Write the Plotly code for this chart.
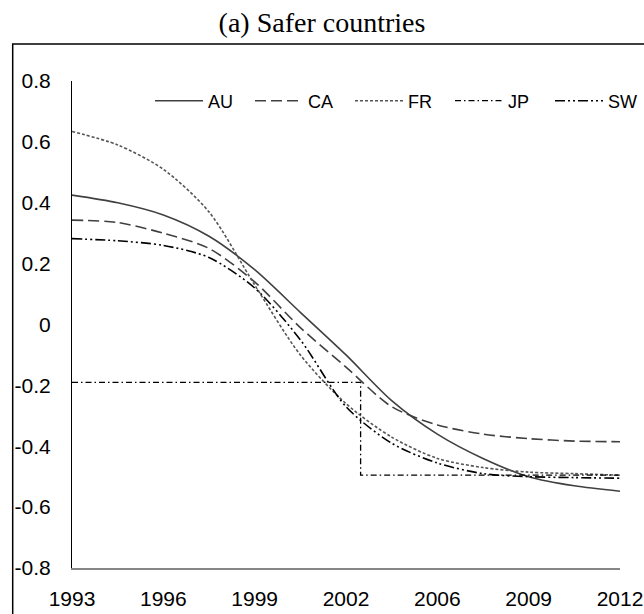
import plotly.graph_objects as go

# Category positions (evenly spaced) and their year labels
year_labels = ["1993", "1996", "1999", "2002", "2006", "2009", "2012"]
tick_pos = [0, 1, 2, 3, 4, 5, 6]

# Sample positions along the category axis for the smooth curves
t = [0, 0.5, 1, 1.5, 2, 2.5, 3, 3.5, 4, 4.5, 5, 5.5, 6]

au = [0.425, 0.40, 0.36, 0.29, 0.18, 0.04, -0.10, -0.25, -0.36, -0.44, -0.50, -0.53, -0.548]
ca = [0.343, 0.335, 0.30, 0.25, 0.14, -0.01, -0.14, -0.27, -0.33, -0.36, -0.375, -0.383, -0.385]
fr = [0.634, 0.59, 0.51, 0.37, 0.13, -0.10, -0.26, -0.37, -0.44, -0.47, -0.485, -0.49, -0.495]
sw = [0.282, 0.275, 0.26, 0.22, 0.12, -0.05, -0.27, -0.39, -0.455, -0.49, -0.50, -0.503, -0.505]

# JP is a single break: flat level, then a drop to a lower level
jp_t = [0, 3.16, 3.16, 6]
jp = [-0.19, -0.19, -0.495, -0.495]

y_ticks = [0.8, 0.6, 0.4, 0.2, 0, -0.2, -0.4, -0.6, -0.8]
y_tick_text = ["0.8", "0.6", "0.4", "0.2", "0", "-0.2", "-0.4", "-0.6", "-0.8"]

W, H = 644, 614
L, R, T, B = 72, 620, 81, 568  # plot-area edges in pixels

fig = go.Figure()

# (name, x, y, line style, shape, legend box)
series = [
    ("AU", t, au, dict(color="#404040", width=1.6, dash="solid"), "spline", "legend"),
    ("CA", t, ca, dict(color="#404040", width=1.6, dash="11px,5px"), "spline", "legend"),
    ("FR", t, fr, dict(color="#555555", width=1.6, dash="3px,2px"), "spline", "legend"),
    ("JP", jp_t, jp, dict(color="#000000", width=1.3, dash="6px,3px,1.5px,3px"), "linear", "legend2"),
    ("SW", t, sw, dict(color="#000000", width=1.6, dash="10px,3px,2px,3px,2px,3px"), "spline", "legend2"),
]
for name, xs, ys, line, shape, leg in series:
    fig.add_trace(go.Scatter(
        x=xs, y=ys, name=name, mode="lines", legend=leg,
        line=dict(shape=shape, smoothing=0.8 if shape == "spline" else None, **line),
    ))

def px_x(p):
    return (p - L) / (R - L)

def px_y(p):
    return (B - p) / (B - T)

# Outer chart border (open to the right and bottom edges of the page)
fig.add_shape(type="rect", xref="paper", yref="paper",
              x0=px_x(12.7), x1=px_x(W + 10), y0=px_y(H + 10), y1=px_y(44),
              line=dict(color="#000000", width=1.5), layer="below")

legend_style = dict(orientation="h", y=px_y(101), xanchor="left", yanchor="middle",
                    entrywidth=37, font=dict(size=18, color="#000000"),
                    bgcolor="rgba(0,0,0,0)", borderwidth=0, itemwidth=48)

fig.update_layout(
    width=W, height=H,
    margin=dict(l=L, r=W - R, t=T, b=H - B, pad=0, autoexpand=False),
    paper_bgcolor="white", plot_bgcolor="white",
    title=dict(text="(a) Safer countries", x=0.5, xref="container", xanchor="center",
               y=1 - 22 / H, yref="container", yanchor="middle",
               font=dict(family="Liberation Serif, Times New Roman, serif", size=28, color="#000000")),
    font=dict(family="Liberation Sans, Arial, sans-serif", color="#000000"),
    showlegend=True,
    legend=dict(x=px_x(150), **legend_style),
    legend2=dict(x=px_x(450), **legend_style),
    xaxis=dict(range=[0, 6], tickvals=tick_pos, ticktext=year_labels,
               showgrid=False, zeroline=False, showline=True, linecolor="#868686", linewidth=2,
               ticks="outside", ticklen=0, ticklabelstandoff=11, automargin=False,
               tickfont=dict(size=21, color="#000000")),
    yaxis=dict(range=[-0.8, 0.8], tickvals=y_ticks, ticktext=y_tick_text,
               showgrid=False, zeroline=False, showline=True, linecolor="#000000", linewidth=1,
               ticks="outside", ticklen=0, ticklabelstandoff=16, automargin=False,
               tickfont=dict(size=21, color="#000000")),
)

fig.write_html("out.html")
